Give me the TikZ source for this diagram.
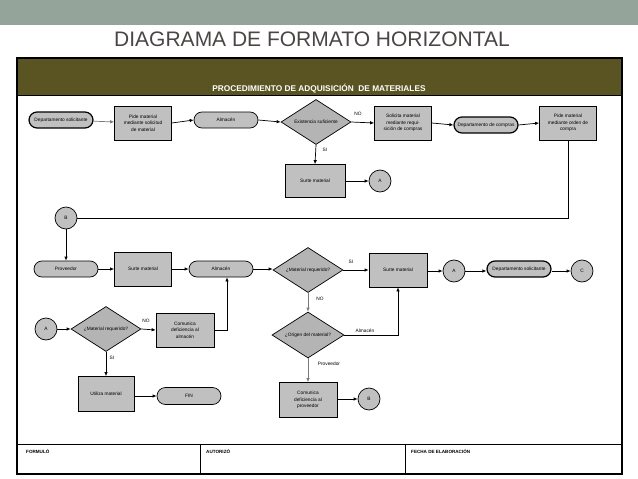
\documentclass[tikz,border=0pt]{standalone}
\usepackage{fontspec}
\setmainfont{Liberation Sans}
\usetikzlibrary{shapes.geometric,shapes.misc,arrows.meta}
\definecolor{band}{HTML}{95A49B}
\definecolor{olive}{HTML}{595421}
\definecolor{titlec}{HTML}{4B4545}
\definecolor{boxg}{HTML}{C0C0C0}
\definecolor{decg}{HTML}{B4B4B4}
\definecolor{gline}{HTML}{7A7A7A}
\tikzset{
 base/.style={draw=black, fill=boxg, line width=0.7pt, font=\fontsize{4.8}{6.6}\selectfont, align=center, inner sep=0pt},
 proc/.style={base, rectangle, minimum width=57pt, minimum height=34pt},
 term/.style={base, rounded rectangle, minimum width=64pt, minimum height=16pt},
 termb/.style={term, line width=1.2pt},
 dec/.style={base, fill=decg, diamond, minimum width=70pt, minimum height=45pt, aspect=1.6},
 conn/.style={base, circle, minimum size=22pt},
 arr/.style={-{Latex[length=4pt,width=3.5pt]}, line width=0.7pt},
 garr/.style={arr, draw=gline},
 plain/.style={line width=0.7pt},
 lab/.style={font=\fontsize{4.8}{6}\selectfont, inner sep=0pt},
 foot/.style={font=\bfseries\fontsize{4.6}{6}\selectfont, inner sep=0pt, anchor=west},
}
\begin{document}
\begin{tikzpicture}[x=1pt,y=-1pt]
\useasboundingbox (0,0) rectangle (638,479);
\fill[white] (0,0) rectangle (638,479);
% top band and title
\fill[band] (0,0) rectangle (638,25);
\node[text=titlec, font=\fontsize{21}{24}\selectfont, inner sep=0pt] (title) at (312,39) {DIAGRAMA DE FORMATO HORIZONTAL};
% frame
\fill[olive] (17,58) rectangle (622,95);
\draw[line width=1pt] (17,95) -- (622,95);
\node[text=white, font=\bfseries\fontsize{8.3}{10}\selectfont, inner sep=0pt] (head) at (319,89) {PROCEDIMIENTO DE ADQUISICIÓN\ \ DE MATERIALES};
\draw[line width=1pt] (17,444) -- (622,444);
\draw[line width=0.8pt] (200,444) -- (200,474);
\draw[line width=0.8pt] (405,444) -- (405,474);
\draw[line width=1.6pt] (17,58) rectangle (622,474);
\node[foot] (f1) at (26,451) {FORMULÓ};
\node[foot] (f2) at (206,451) {AUTORIZÓ};
\node[foot] (f3) at (411,451) {FECHA DE ELABORACIÓN};

% row 1
\node[termb] (ds1) at (61,120) {Departamento solicitante};
\node[proc] (pm1) at (143,123) {Pide material\\mediante solicitud\\de material};
\node[term] (al1) at (226,120) {Almacén};
\node[dec] (ex) at (316,122) {Existencia suficiente};
\node[proc] (so) at (403,123) {Solicita material\\mediante requi-\\sición de compras};
\node[termb] (dc) at (486,125) {Departamento de compras};
\node[proc] (po) at (568,123) {Pide material\\mediante orden de\\compra};
\node[proc, minimum width=60pt, minimum height=33pt] (su1) at (315,181) {Surte material};
\node[conn] (A1) at (380,181) {A};

\draw[garr] (ds1) -- (pm1);
\draw[arr] (pm1.east) -- (al1.west);
\draw[arr] (al1.east) -- (ex.west);
\draw[arr] (ex.east) -- (so.west);
\node[lab] (lno1) at (358,114) {NO};
\draw[arr] (so.east) -- (dc.west);
\draw[arr] (dc.east) -- (po.west);
\draw[arr] (ex.south) -- (su1.north);
\node[lab] (lsi1) at (325,150) {SI};
\draw[arr] (su1.east) -- (A1.west);

% connector B
\node[conn] (B1) at (66,218) {B};
\draw[plain] (po.south) |- (B1.east);

% row 2
\node[term] (pr) at (66,269) {Proveedor};
\node[proc] (su2) at (143,269) {Surte material};
\node[term] (al2) at (221,269) {Almacén};
\node[dec] (mr) at (308,270) {¿Material requerido?};
\node[proc, minimum width=58pt] (su3) at (398,270) {Surte material};
\node[conn] (A2) at (454,271) {A};
\node[termb] (ds2) at (519,269) {Departamento solicitante};
\node[conn] (C) at (582,271) {C};

\draw[arr] (B1.south) -- (pr.north);
\draw[arr] (pr.east) -- (pr.east -| su2.west);
\draw[arr] (su2.east |- al2) -- (al2.west);
\draw[arr] (al2.east) -- (al2.east -| mr.west);
\draw[arr] (mr.east) -- (mr.east -| su3.west);
\node[lab] (lsi2) at (351,262) {SI};
\draw[arr] (su3.east |- A2) -- (A2.west);
\draw[arr] (A2.east) -- (A2.east -| ds2.west);
\draw[arr] (ds2.east |- C) -- (C.west);

% origin decision
\node[dec, minimum width=72pt, minimum height=46pt] (og) at (308,335) {¿Origen del material?};
\node[proc, minimum width=58pt, minimum height=35pt] (cp) at (308,400) {Comunica\\deficiencia al\\proveedor};
\node[conn] (B2) at (369,399) {B};
\draw[garr] (mr.south) -- (og.north);
\node[lab] (lno2) at (320,299) {NO};
\draw[arr] (og.east) -| (su3.south);
\node[lab] (lalm) at (365,331) {Almacén};
\draw[garr] (og.south) -- (cp.north);
\node[lab] (lprov) at (329,364) {Proveedor};
\draw[arr] (cp.east |- B2) -- (B2.west);

% row 3
\node[conn] (A3) at (46,329) {A};
\node[dec] (mr2) at (106,329) {¿Material requerido?};
\node[proc, minimum width=58pt] (ca) at (185,330) {Comunica\\deficiencia al\\almacén};
\node[proc, minimum width=56pt, minimum height=35pt] (ut) at (106,394) {Utiliza material};
\node[term, minimum height=17pt] (fin) at (189,396) {FIN};

\draw[arr] (A3.east) -- (mr2.west);
\draw[arr] (mr2.east) -- (ca.west);
\node[lab] (lno3) at (146,321) {NO};
\draw[arr] (ca.east) -| ([xshift=6pt]al2.south);
\draw[arr] (mr2.south) -- (ut.north);
\node[lab] (lsi3) at (112,358) {SI};
\draw[arr] (ut.east |- fin) -- (fin.west);
\end{tikzpicture}
\end{document}
